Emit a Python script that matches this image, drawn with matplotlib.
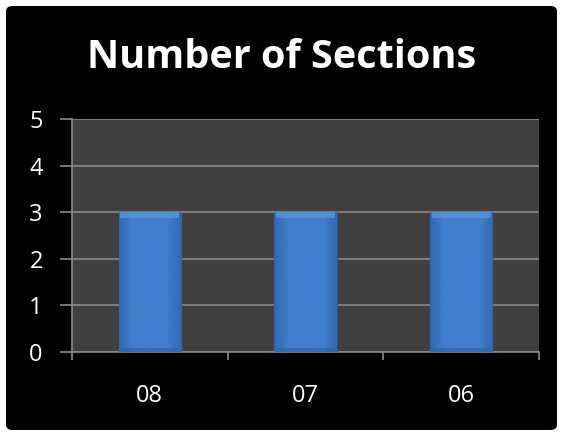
import numpy as np
import matplotlib
matplotlib.use("Agg")
import matplotlib.pyplot as plt
from matplotlib.patches import FancyBboxPatch

# chart data
categories = ["08", "07", "06"]
sections = [3, 3, 3]
y_ticks = [0, 1, 2, 3, 4, 5]

plt.rcParams['font.family'] = ['Open Sans', 'DejaVu Sans']

fig = plt.figure(figsize=(5.63, 4.36), dpi=100)
fig.patch.set_facecolor("white")

# black rounded panel inside a thin white frame
panel = FancyBboxPatch((6 / 563, 6 / 436), 551 / 563, 424 / 436,
                       boxstyle="round,pad=0,rounding_size=0.012",
                       transform=fig.transFigure, facecolor="black",
                       edgecolor="none", zorder=-5)
fig.patches.append(panel)

ax = fig.add_axes([72 / 563, (436 - 352) / 436, 467 / 563, 233 / 436])
ax.set_facecolor("#404040")

x = np.arange(len(categories))
bars = ax.bar(x, sections, width=0.4, color="#3d79c8",
              edgecolor="#2a5796", linewidth=0.8, zorder=3)

# soft gradient on each bar
grad = np.linspace(0, 1, 100).reshape(1, -1)
grad = np.clip(np.abs(grad - 0.5) * 2 - 0.6, 0, 1) / 0.4
cmap = matplotlib.colors.LinearSegmentedColormap.from_list("b", ["#407dcc", "#3368b0"])
for b in bars:
    x0, y0 = b.get_x(), b.get_y()
    w, h = b.get_width(), b.get_height()
    im = ax.imshow(grad, extent=[x0, x0 + w, y0, y0 + h], aspect="auto",
                   cmap=cmap, zorder=4)
    im.set_clip_path(b)
    # lighter top bevel
    ax.fill_between([x0 + 0.01, x0 + w - 0.01], y0 + h - 0.12, y0 + h,
                    color="#5f97e0", alpha=0.7, zorder=5, linewidth=0)
    # darker bottom edge
    ax.fill_between([x0 + 0.01, x0 + w - 0.01], y0, y0 + 0.08,
                    color="#2f609f", alpha=0.6, zorder=5, linewidth=0)

ax.set_xlim(-0.5, len(categories) - 0.5)
ax.set_ylim(0, 5)
ax.set_yticks(y_ticks)
ax.set_xticks(x)
ax.set_xticklabels(categories)
ax.set_xticks(np.arange(len(categories) + 1) - 0.5, minor=True)

ax.yaxis.grid(True, color="#8a8a8a", linewidth=1.2, zorder=1)
ax.set_axisbelow(True)

for side in ["top", "right"]:
    ax.spines[side].set_visible(False)
for side in ["left", "bottom"]:
    ax.spines[side].set_color("#8a8a8a")
    ax.spines[side].set_linewidth(1.2)

ax.tick_params(axis="y", colors="#8a8a8a", labelcolor="white",
               labelsize=17, length=9, width=1.2, pad=12)
ax.tick_params(axis="x", which="major", length=0, labelcolor="white",
               labelsize=17, pad=23)
ax.tick_params(axis="x", which="minor", colors="#8a8a8a", length=6, width=1.2)

fig.text(0.5, (436 - 57) / 436, "Number of Sections", color="white",
         fontsize=28.5, fontweight="bold", ha="center", va="center")

fig.savefig("out.png", dpi=100, facecolor=fig.get_facecolor())
